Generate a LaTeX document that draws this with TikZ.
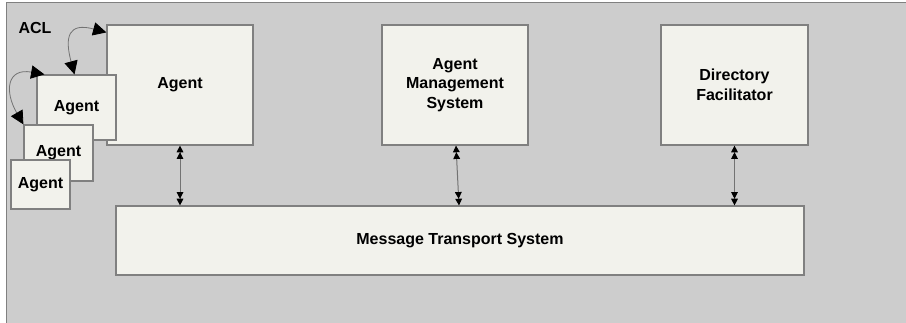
\documentclass[tikz,border=0pt]{standalone}
\usepackage{fontspec}
\setmainfont{Liberation Sans}
\usetikzlibrary{arrows.meta}

\definecolor{panel}{RGB}{205,205,205}
\definecolor{boxfill}{RGB}{242,242,236}
\definecolor{boxline}{RGB}{128,128,128}
\definecolor{wire}{RGB}{115,115,115}

\tikzset{
  box/.style={draw=boxline, line width=0.9pt, fill=boxfill, inner sep=0pt, align=center,
    font=\bfseries\fontsize{12}{14.6}\selectfont},
  link/.style={draw=wire, line width=0.75pt,
    {Triangle[black,length=5pt,width=5pt]Triangle[black,length=5pt,width=5pt]}-{Triangle[black,length=5pt,width=5pt]Triangle[black,length=5pt,width=5pt]}},
  acl/.style={draw=wire, line width=0.6pt,
    {Triangle[black,length=10pt,width=10pt]}-{Triangle[black,length=10pt,width=10pt]}}
}

\begin{document}
\begin{tikzpicture}[x=0.75pt, y=-0.75pt]
  \useasboundingbox (0,0) rectangle (906,322);
  \clip (0,0) rectangle (906,322);
  \draw[boxline, line width=1pt, fill=panel] (6.5,2.5) rectangle (930,340);

  \node (acl) at (35,28) {\bfseries\fontsize{12}{14.6}\selectfont ACL};

  % the agent and its copies
  \node[box, minimum width=109.5pt, minimum height=90pt] (agent) at (180,85) {Agent};
  \node[box, minimum width=59.25pt, minimum height=48.75pt] (agentb) at (76.5,107.5) {Agent};
  \node[box, minimum width=51.75pt, minimum height=42pt] (agentc) at (58.5,153) {Agent};
  \node[box, minimum width=44.25pt, minimum height=36.75pt] (agentd) at (40.5,184.5) {Agent};

  \node[box, minimum width=109.5pt, minimum height=90pt] (ams) at (455,85) {Agent\\Management\\System};
  \node[box, minimum width=110.25pt, minimum height=90pt] (df) at (734.5,85) {Directory\\Facilitator};
  \node[box, minimum width=516pt, minimum height=51.75pt] (mts) at (460,240.5) {Message Transport System};

  % messages between agents
  \draw[acl] ([yshift=-6pt]agent.north west) to[out=165, in=105, looseness=1.9] ([xshift=-1.5pt]agentb.north);
  \draw[acl] ([xshift=6pt]agentb.north west) to[out=170, in=120, looseness=1.8] (agentc.north west);

  % links to the transport
  \draw[link] (agent.south) -- (agent.south |- mts.north);
  \draw[link] ([xshift=0.75pt]ams.south) -- ([xshift=3pt]ams.south |- mts.north);
  \draw[link] (df.south) -- (df.south |- mts.north);
\end{tikzpicture}
\end{document}
